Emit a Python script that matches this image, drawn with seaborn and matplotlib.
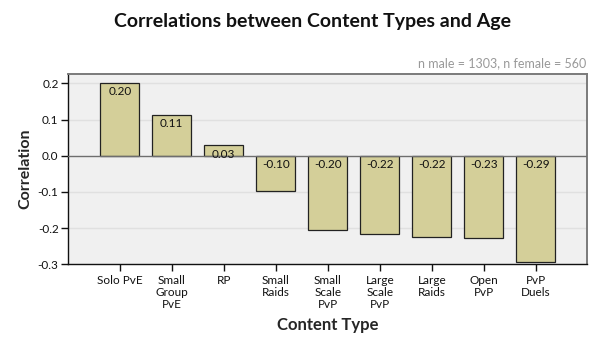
import matplotlib
matplotlib.use("Agg")
import matplotlib.pyplot as plt
import seaborn as sns
import pandas as pd

# Content types and their correlation with age
categories = ["Solo PvE", "Small\nGroup\nPvE", "RP", "Small\nRaids", "Small\nScale\nPvP",
              "Large\nScale\nPvP", "Large\nRaids", "Open\nPvP", "PvP\nDuels"]
correlations = [0.201, 0.113, 0.029, -0.097, -0.204, -0.217, -0.224, -0.228, -0.294]
y_ticks = [0.2, 0.1, 0.0, -0.1, -0.2, -0.3]
note = "n male = 1303, n female = 560"

df = pd.DataFrame({"Content Type": categories, "Correlation": correlations})

sns.set_style("white")
plt.rcParams["font.family"] = ["Lato", "DejaVu Sans"]

fig = plt.figure(figsize=(6, 3.5), dpi=100)
ax = fig.add_axes([68.3 / 600, 1 - 264.3 / 350, (586.7 - 68.3) / 600, (264.3 - 74) / 350])
ax.set_facecolor("#F0F0F0")

sns.barplot(data=df, x="Content Type", y="Correlation", color="#D4CF99",
            saturation=1, width=0.75, edgecolor="#222222", linewidth=0.9,
            errorbar=None, ax=ax, zorder=3)

ax.set_xlim(-0.99, 8.98)
ax.set_ylim(-0.3, 0.2257)
ax.set_yticks(y_ticks)
ax.set_yticklabels([f"{t:.1f}" for t in y_ticks])

for t in y_ticks:
    if t != 0.0:
        ax.axhline(t, color="#E0E0E0", lw=1.0, zorder=1)
ax.axhline(0.0, color="#6E6E6E", lw=1.0, zorder=4)

for i, v in enumerate(correlations):
    ax.annotate(f"{v:.2f}", xy=(i, max(v, 0.0)), xytext=(0, -2.5),
                textcoords="offset points", ha="center", va="top",
                fontsize=8.5, color="#111111", zorder=5)

for side in ["top", "right"]:
    ax.spines[side].set_color("#7A7A7A")
    ax.spines[side].set_linewidth(1.4)
for side in ["left", "bottom"]:
    ax.spines[side].set_color("#111111")
    ax.spines[side].set_linewidth(1.0)

ax.tick_params(axis="both", direction="out", length=5, width=1, color="#111111",
               labelsize=8.5, labelcolor="#111111", left=True, bottom=True, pad=2)
ax.tick_params(axis="x", pad=3)
for lbl in ax.get_xticklabels():
    lbl.set_linespacing(1.1)

ax.set_xlabel("Content Type", fontsize=12, fontweight="bold", labelpad=5)
ax.set_ylabel("Correlation", fontsize=11.5, fontweight="bold", labelpad=4)

fig.text(313 / 600, 1 - 21 / 350, "Correlations between Content Types and Age",
         ha="center", va="center", fontsize=14, fontweight="bold", color="#111111")
fig.text(586 / 600, 1 - 63 / 350, note, ha="right", va="center",
         fontsize=9, color="#999999")

fig.savefig("out.png", dpi=100)
